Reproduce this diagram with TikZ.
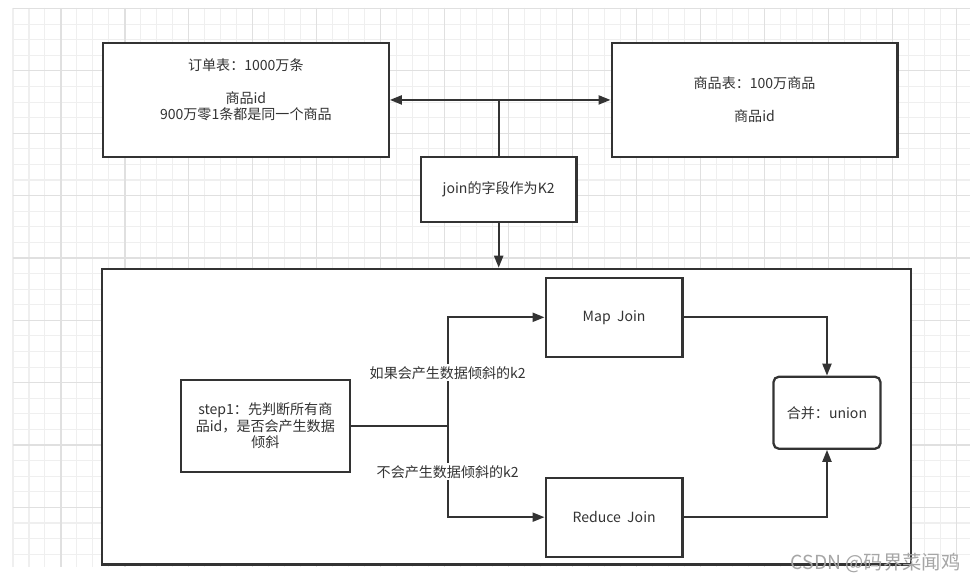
\documentclass[tikz,border=0pt]{standalone}
\usepackage{fontspec}
\setmainfont{Noto Sans CJK SC}
\usetikzlibrary{arrows.meta,positioning,calc}
\definecolor{ink}{HTML}{333333}
\definecolor{gridminor}{HTML}{EFEFEF}
\definecolor{gridmajor}{HTML}{E0E0E0}

\begin{document}
\begin{tikzpicture}[x=0.02cm,y=-0.02cm,
    box/.style={draw=ink,line width=1.3pt,fill=white,text=ink,align=center,inner sep=0pt,font=\fontsize{8}{9.4}\selectfont},
    link/.style={draw=ink,line width=1.2pt},
    tip/.style={-{Triangle[length=2.4mm,width=1.8mm]}},
    tips/.style={{Triangle[length=2.4mm,width=1.8mm]}-{Triangle[length=2.4mm,width=1.8mm]}},
    note/.style={fill=white,text=ink,inner sep=1pt,font=\fontsize{8}{9.4}\selectfont}]
    \fill[white] (0,0) rectangle (971,582);
    \foreach \gx in {13,29,...,971} \draw[gridminor,line width=0.6pt] (\gx,8) -- (\gx,567);
    \foreach \gy in {8.5,24.1,...,567} \draw[gridminor,line width=0.6pt] (13,\gy) -- (971,\gy);
    \foreach \gx in {61,125,...,971} \draw[gridmajor,line width=0.7pt] (\gx,8) -- (\gx,567);
    \foreach \gy in {8.5,70.9,...,567} \draw[gridmajor,line width=0.7pt] (13,\gy) -- (971,\gy);
    \useasboundingbox (0,0) rectangle (971,582);

    \node[box,minimum width=5.72cm,minimum height=2.28cm] (orders) at (246,100) {订单表：1000万条\\[9.4pt]商品id\\900万零1条都是同一个商品\\ \strut};
    \node[box,minimum width=5.72cm,minimum height=2.28cm] (goods) at (755,100) {商品表：100万商品\\[9.4pt]商品id};
    \node[box,minimum width=3.12cm,minimum height=1.3cm] (joinkey) at (499,189.5) {join的字段作为K2};
    \node[box,minimum width=16.2cm,minimum height=5.92cm] (outer) at (507,417) {};
    \node[box,minimum width=3.38cm,minimum height=1.84cm] (step) at (265.5,426) {step1：先判断所有商\\品id，是否会产生数据\\倾斜};
    \node[box,minimum width=2.74cm,minimum height=1.58cm] (mapjoin) at (614.5,317.5) {Map\ \ Join};
    \node[box,minimum width=2.74cm,minimum height=1.58cm] (reducejoin) at (614.5,517.5) {Reduce\ \ Join};
    \node[box,rounded corners=3pt,minimum width=2.14cm,minimum height=1.44cm] (merge) at (827.5,413) {合并：union};
    \coordinate (fork) at (448,426);

    \draw[link,tips] (orders.east) -- (goods.west);
    \draw[link] (joinkey.north) -- (joinkey.north |- orders.east);
    \draw[link,tip] (joinkey.south) -- (joinkey.south |- outer.north);
    \draw[link] (step.east) -- (fork);
    \draw[link,tip] (fork) |- (mapjoin.west);
    \draw[link,tip] (fork) |- (reducejoin.west);
    \draw[link,tip] (mapjoin.east) -| (merge.north);
    \draw[link,tip] (reducejoin.east) -| (merge.south);
    \node[note] (skew) at (448,373) {如果会产生数据倾斜的k2};
    \node[note] (noskew) at (448,472) {不会产生数据倾斜的k2};

    \node[text=gray!70,anchor=west,font=\fontsize{11}{13}\selectfont] (mark) at (785,563) {CSDN @码界菜闻鸡};
\end{tikzpicture}
\end{document}
